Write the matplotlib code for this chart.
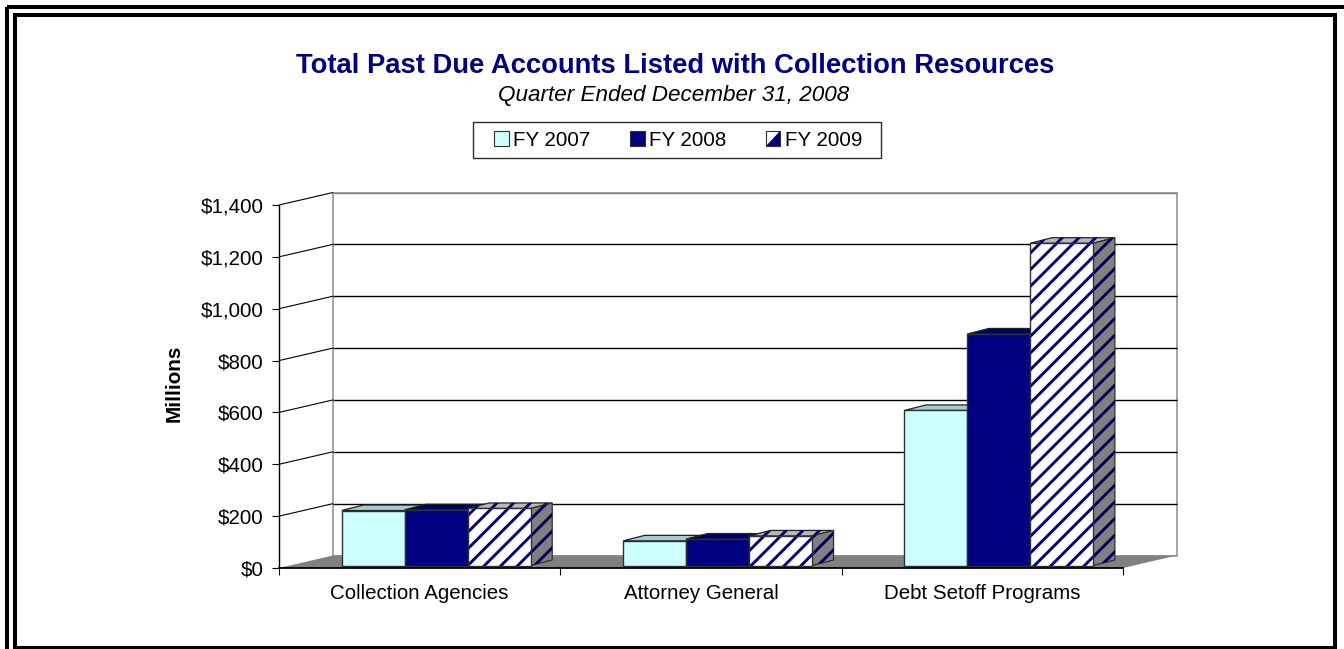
import matplotlib
matplotlib.use("Agg")
import matplotlib.pyplot as plt
from matplotlib.patches import Polygon, Rectangle, Patch
from matplotlib.legend_handler import HandlerBase

plt.rcParams['font.family'] = ['Liberation Sans', 'DejaVu Sans']
plt.rcParams['hatch.linewidth'] = 2.1

# ---- data ----
categories = ["Collection Agencies", "Attorney General", "Debt Setoff Programs"]
series_names = ["FY 2007", "FY 2008", "FY 2009"]
fy2007 = [212, 95, 598]
fy2008 = [215, 102, 893]
fy2009 = [220, 114, 1243]
y_ticks = [0, 200, 400, 600, 800, 1000, 1200, 1400]
y_tick_labels = ["$0", "$200", "$400", "$600", "$800", "$1,000", "$1,200", "$1,400"]

W, H = 1344, 649
fig = plt.figure(figsize=(W / 100, H / 100), dpi=100, facecolor="white")

# outer double border and legend box
bg = fig.add_axes([0, 0, 1, 1], zorder=0)
bg.set_xlim(0, W); bg.set_ylim(H, 0); bg.axis("off")
bg.add_patch(Rectangle((7, 7), W - 7 + 5, H, fill=False, ec="black", lw=2.9))
bg.add_patch(Rectangle((15, 15), 1320, 633, fill=False, ec="black", lw=2.9))
bg.add_patch(Rectangle((473, 122), 408, 36, fc="white", ec="#303030", lw=1.0))

# plotting axes = front plane of the 3-D box
L, R, T, B = 279, 1123, 205, 568
ax = fig.add_axes([L / W, 1 - B / H, (R - L) / W, (B - T) / H], zorder=1)
ax.set_xlim(0, 3)
ax.set_ylim(0, 1400)
ax.patch.set_alpha(0)
for s in ax.spines.values():
    s.set_visible(False)

# depth vector of the box, in data units
DX = 54 / ((R - L) / 3)
DY = 12.5 / ((B - T) / 1400)

def poly(pts, **kw):
    kw.setdefault("clip_on", False)
    p = Polygon(pts, closed=True, **kw)
    ax.add_patch(p)
    return p

# walls
poly([(0, 0), (DX, DY), (DX, 1400 + DY), (0, 1400)], fc="white", ec="none", zorder=1)
poly([(DX, DY), (3 + DX, DY), (3 + DX, 1400 + DY), (DX, 1400 + DY)], fc="white", ec="#8c8c8c", lw=1.1, zorder=1)
for v in y_ticks[1:]:
    c = "#808080" if v == 1400 else "black"
    ax.plot([DX, 3 + DX], [v + DY, v + DY], color=c, lw=1.0, zorder=2, clip_on=False, solid_capstyle="butt")
    ax.plot([0, DX], [v, v + DY], color="black", lw=0.8, zorder=2, clip_on=False, solid_capstyle="butt")
# floor
poly([(0, 0), (DX, DY), (3 + DX, DY), (3, 0)], fc="#808080", ec="none", zorder=3)

# bars
BAR_W = 0.2238
BAR_DX = 0.4 * DX
BAR_DY = 0.44 * DY
FRONT_DX = 0.223
FRONT_DY = 0.2 * DY
face = ["#CCFFFF", "#000080", "white"]
top = ["#A3CCCC", "#000066", "#B8B8B8"]
side = ["#8FB3B3", "#00005A", "#808080"]
hatch_col = [None, None, "#000080"]
for c in range(3):
    for i, vals in enumerate((fy2007, fy2008, fy2009)):
        x0 = c + FRONT_DX + i * BAR_W
        y0 = FRONT_DY
        y1 = vals[c] + FRONT_DY
        x1 = x0 + BAR_W
        z = 10 + i
        h = "//" if hatch_col[i] else None
        kw = dict(lw=0.9, zorder=z)
        top_pts = [(x0, y1), (x0 + BAR_DX, y1 + BAR_DY), (x1 + BAR_DX, y1 + BAR_DY), (x1, y1)]
        side_pts = [(x1, y0), (x1 + BAR_DX, y0 + BAR_DY), (x1 + BAR_DX, y1 + BAR_DY), (x1, y1)]
        front_pts = [(x0, y0), (x1, y0), (x1, y1), (x0, y1)]
        poly(top_pts, fc=top[i], ec="#222222", **kw)
        if h:
            poly(top_pts, fc="none", ec=hatch_col[i], hatch=h, lw=0, zorder=z)
        poly(side_pts, fc=side[i], ec="#303030", **kw)
        if h:
            poly(side_pts, fc="none", ec="#00005A", hatch=h, lw=0, zorder=z)
        poly(front_pts, fc=face[i], ec="none", zorder=z)
        if h:
            poly(front_pts, fc="none", ec=hatch_col[i], hatch=h, lw=0, zorder=z)
        poly(front_pts, fc="none", ec="#303030", lw=1.0, zorder=z + 0.5)

# axes lines and ticks
ax.plot([0, 0], [0, 1400], color="black", lw=1.0, zorder=20, clip_on=False)
ax.plot([0, 3], [0, 0], color="black", lw=1.3, zorder=20, clip_on=False)
ax.set_yticks(y_ticks)
ax.set_yticklabels(y_tick_labels, fontsize=14.9)
ax.set_xticks([0, 1, 2, 3])
ax.set_xticklabels([])
ax.set_xticks([0.5, 1.5, 2.5], minor=True)
ax.set_xticklabels(categories, minor=True, fontsize=14.8)
ax.tick_params(axis="x", which="minor", length=0, pad=11.7)
ax.tick_params(axis="x", which="major", length=5, width=0.8)
ax.tick_params(axis="y", length=5, width=0.8, pad=6.1)
ax.set_ylabel("Millions", fontsize=14.9, fontweight="bold", labelpad=12.6, y=0.51)

# title
fig.text(675 / W, 1 - 66 / H, "Total Past Due Accounts Listed with Collection Resources",
         color="#000080", fontsize=19.7, fontweight="bold", ha="center", va="center")
fig.text(674 / W, 1 - 95 / H, "Quarter Ended December 31, 2008",
         color="black", fontsize=16.2, style="italic", ha="center", va="center")

# legend
class DiagonalHandler(HandlerBase):
    def create_artists(self, legend, orig, xd, yd, width, height, fontsize, trans):
        box = Rectangle((-xd, -yd), width, height, fc="white", ec="#303030", lw=0.8, transform=trans)
        tri = Polygon([(-xd, -yd), (-xd + width, -yd), (-xd + width, -yd + height)],
                      closed=True, fc="#000080", ec="none", transform=trans)
        return [box, tri]

handles = [Patch(fc=face[0], ec="#303030", lw=0.8),
           Patch(fc=face[1], ec="#303030", lw=0.8),
           Patch(fc="white", ec="#000080")]
leg = fig.legend(handles, series_names, ncols=3, loc="center",
                 bbox_to_anchor=(678 / W, 1 - 140 / H), fontsize=14.8,
                 handlelength=0.72, handleheight=0.72, handletextpad=0.2,
                 columnspacing=1.93, borderpad=0, borderaxespad=0,
                 frameon=False, handler_map={handles[2]: DiagonalHandler()})
leg.set_zorder(5)

fig.savefig("out.png", dpi=100)
